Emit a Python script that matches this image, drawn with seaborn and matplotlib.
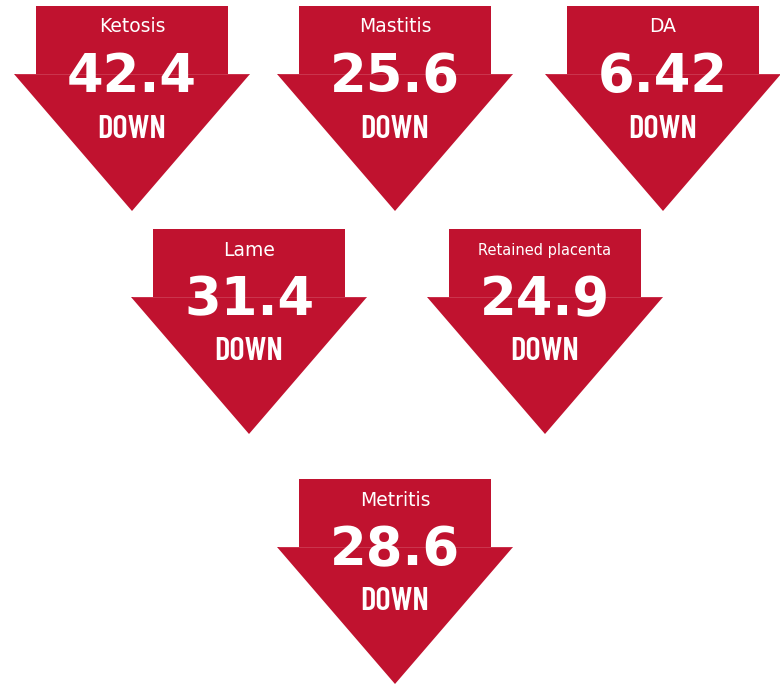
import matplotlib
matplotlib.use("Agg")
import matplotlib.pyplot as plt
from matplotlib.patches import Polygon
from matplotlib import font_manager
import seaborn as sns

# Data
conditions = ["Ketosis", "Mastitis", "DA", "Lame", "Retained placenta", "Metritis"]
values = [42.4, 25.6, 6.42, 31.4, 24.9, 28.6]
value_labels = ["42.4", "25.6", "6.42", "31.4", "24.9", "28.6"]
direction = ["DOWN"] * 6

# Layout (pixel coordinates)
centers_x = [132, 395, 663, 249, 545, 395]
tops_y = [6, 6, 6, 229, 229, 479]
label_sizes = [13.5, 13.5, 13.5, 13.5, 10.5, 13.5]

RED = "#C0122F"
stem_w, stem_h = 192, 68
tri_w, tri_h = 236, 137

sns.set_theme(style="white")

names = {f.name for f in font_manager.fontManager.ttflist}
narrow = next((n for n in ["Barlow Condensed", "Fira Sans Condensed", "Roboto Condensed"] if n in names), "DejaVu Sans")

fig = plt.figure(figsize=(7.8, 6.84), dpi=100)
ax = fig.add_axes([0, 0, 1, 1])
ax.set_xlim(0, 780)
ax.set_ylim(684, 0)
ax.axis("off")

for cond, vl, d, cx, ty, ls in zip(conditions, value_labels, direction, centers_x, tops_y, label_sizes):
    stem = Polygon([(cx - stem_w / 2, ty), (cx + stem_w / 2, ty),
                    (cx + stem_w / 2, ty + stem_h), (cx - stem_w / 2, ty + stem_h)],
                   closed=True, facecolor=RED, edgecolor="none")
    tri = Polygon([(cx - tri_w / 2, ty + stem_h), (cx + tri_w / 2, ty + stem_h),
                   (cx, ty + stem_h + tri_h)],
                  closed=True, facecolor=RED, edgecolor="none")
    ax.add_patch(stem)
    ax.add_patch(tri)
    ax.plot([cx - tri_w / 2 + 2, cx + tri_w / 2 - 2], [ty + stem_h, ty + stem_h],
            color="#d4566b", lw=0.6, alpha=0.6)
    ax.text(cx, ty + 21, cond, ha="center", va="center", color="white",
            fontsize=ls, family="DejaVu Sans")
    ax.text(cx, ty + 71, vl, ha="center", va="center", color="white",
            fontsize=38, fontweight="bold", family="DejaVu Sans")
    ax.text(cx, ty + 123, d, ha="center", va="center", color="white",
            fontsize=23.5, fontweight="semibold", family=narrow)

fig.savefig("out.png", dpi=100, facecolor="white")
